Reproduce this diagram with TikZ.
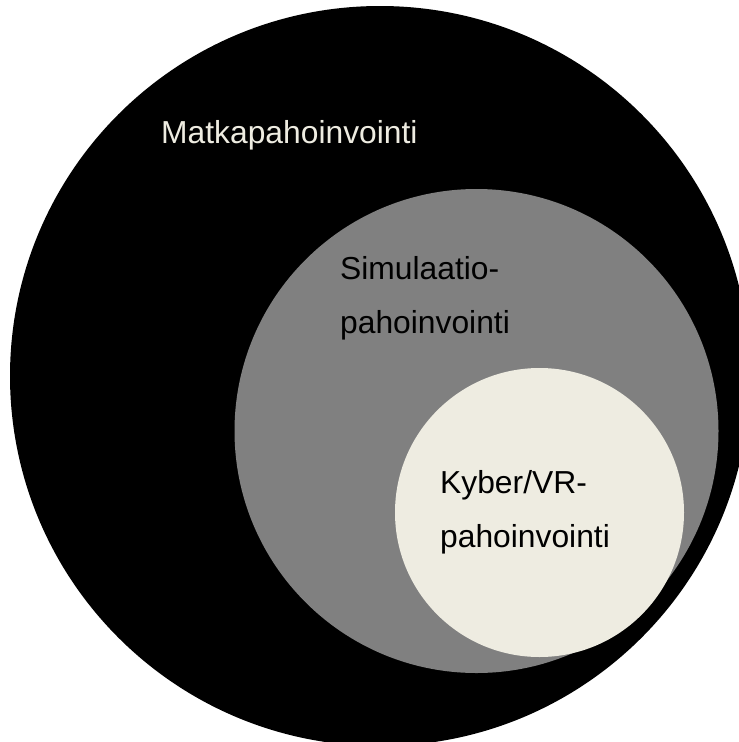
\documentclass[tikz,border=0pt]{standalone}
\usepackage{fontspec}
\setmainfont{Liberation Sans}
\definecolor{cream}{RGB}{238,236,225}
\definecolor{midgray}{RGB}{128,128,128}
\begin{document}
\begin{tikzpicture}[x=1pt,y=-1pt,
  lbl/.style={anchor=base west,inner sep=0pt,align=left,font=\fontsize{31.8}{54.3}\selectfont}]
\useasboundingbox (0,0) rectangle (739,742);
\clip (0,0) rectangle (739,742);
\fill[black] (380,376) circle[radius=370];
\fill[midgray] (476.5,431) circle[radius=242];
\fill[cream] (539.5,512.5) circle[radius=144.5];
\node[lbl,text=cream] (matka) at (161,143.7) {Matkapahoinvointi};
\node[lbl,text=black] (sim) at (340,333.3) {Simulaatio-\\pahoinvointi};
\node[lbl,text=black] (kyber) at (440,547.3) {Kyber/VR-\\pahoinvointi};
\end{tikzpicture}
\end{document}
